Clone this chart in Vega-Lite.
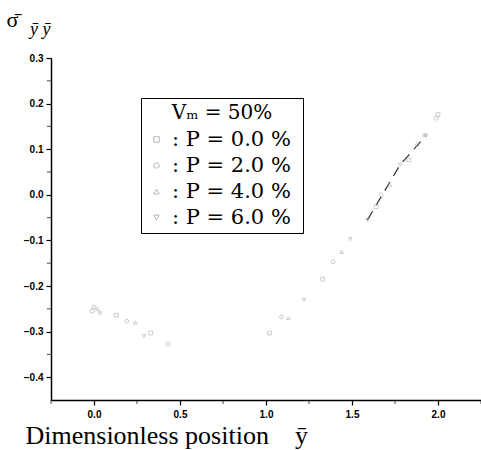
{
  "$schema": "https://vega.github.io/schema/vega-lite/v6.json",
  "width": 430,
  "height": 342,
  "autosize": "none",
  "padding": {"left": 51, "top": 58, "right": 0, "bottom": 50},
  "background": "white",
  "title": {
    "text": "ȳ ȳ",
    "anchor": "start",
    "frame": "group",
    "dx": -21,
    "offset": 0,
    "dy": 31,
    "font": "Liberation Serif",
    "fontStyle": "italic",
    "fontSize": 18,
    "fontWeight": "normal",
    "color": "black"
  },
  "config": {
    "view": {"stroke": null},
    "axis": {
      "domainColor": "black",
      "domainWidth": 1.5,
      "tickColor": "black",
      "tickWidth": 1.2,
      "grid": false,
      "labelFont": "Liberation Sans",
      "labelFontSize": 10,
      "labelFontWeight": "bold",
      "labelColor": "black",
      "titleColor": "black"
    },
    "legend": {
      "orient": "none",
      "legendX": 90,
      "legendY": 40,
      "strokeColor": "black",
      "fillColor": "white",
      "padding": 5,
      "titleFont": "DejaVu Serif",
      "titleFontSize": 20,
      "titleFontWeight": "normal",
      "titleColor": "black",
      "titleAnchor": "middle",
      "titlePadding": 6,
      "labelFont": "DejaVu Serif",
      "labelFontSize": 21,
      "labelColor": "black",
      "rowPadding": 4,
      "symbolSize": 30,
      "symbolStrokeWidth": 1,
      "symbolStrokeColor": "#888888",
      "symbolFillColor": "transparent",
      "labelOffset": 5
    }
  },
  "data": {
    "values": [
      {"P": "0.0", "x": -0.01, "y": -0.255},
      {"P": "0.0", "x": 0.13, "y": -0.264},
      {"P": "0.0", "x": 0.33, "y": -0.303},
      {"P": "0.0", "x": 1.02, "y": -0.303},
      {"P": "0.0", "x": 1.33, "y": -0.185},
      {"P": "0.0", "x": 1.64, "y": -0.026},
      {"P": "0.0", "x": 1.83, "y": 0.077},
      {"P": "0.0", "x": 2.0, "y": 0.176},
      {"P": "2.0", "x": 0.0, "y": -0.246},
      {"P": "2.0", "x": 0.19, "y": -0.277},
      {"P": "2.0", "x": 0.43, "y": -0.327},
      {"P": "2.0", "x": 1.09, "y": -0.268},
      {"P": "2.0", "x": 1.39, "y": -0.147},
      {"P": "2.0", "x": 1.67, "y": 0.0},
      {"P": "2.0", "x": 1.88, "y": 0.11},
      {"P": "2.0", "x": 1.99, "y": 0.168},
      {"P": "4.0", "x": 0.02, "y": -0.25},
      {"P": "4.0", "x": 0.24, "y": -0.28},
      {"P": "4.0", "x": 1.13, "y": -0.27},
      {"P": "4.0", "x": 1.44, "y": -0.125},
      {"P": "4.0", "x": 1.72, "y": 0.022},
      {"P": "4.0", "x": 1.92, "y": 0.132},
      {"P": "6.0", "x": 0.035, "y": -0.26},
      {"P": "6.0", "x": 0.29, "y": -0.31},
      {"P": "6.0", "x": 1.22, "y": -0.231},
      {"P": "6.0", "x": 1.49, "y": -0.097},
      {"P": "6.0", "x": 1.59, "y": -0.055},
      {"P": "6.0", "x": 1.78, "y": 0.066},
      {"P": "6.0", "x": 1.93, "y": 0.13}
    ]
  },
  "layer": [
    {
      "transform": [{"filter": "datum.P == '6.0' && datum.x > 1.5"}],
      "mark": {"type": "line", "color": "#333333", "strokeWidth": 1.2, "strokeDash": [10, 7]},
      "encoding": {
        "x": {"field": "x", "type": "quantitative"},
        "y": {"field": "y", "type": "quantitative"}
      }
    },
    {
      "mark": {"type": "point", "filled": false, "size": 14, "strokeWidth": 1, "color": "#aaaaaa", "opacity": 0.6},
      "encoding": {
        "x": {
          "field": "x",
          "type": "quantitative",
          "scale": {"domain": [-0.25, 2.25], "nice": false, "zero": false},
          "axis": {
            "values": [0, 0.5, 1, 1.5, 2],
            "format": ".1f",
            "tickSize": 5,
            "labelPadding": 4,
            "title": "Dimensionless position\u00a0\u00a0\u00a0 ȳ",
            "titleFont": "Liberation Serif",
            "titleFontSize": 26,
            "titleFontWeight": "normal",
            "titleAnchor": "start",
            "titleAlign": "left",
            "titleBaseline": "alphabetic",
            "titleX": -26,
            "titleY": 43
          }
        },
        "y": {
          "field": "y",
          "type": "quantitative",
          "scale": {"domain": [-0.45, 0.3], "nice": false, "zero": false},
          "axis": {
            "values": [-0.4, -0.3, -0.2, -0.1, 0, 0.1, 0.2, 0.3],
            "format": ".1f",
            "tickSize": 5,
            "labelPadding": 3,
            "title": "σ̄",
            "titleFont": "Liberation Serif",
            "titleFontSize": 22,
            "titleFontWeight": "normal",
            "titleAngle": 0,
            "titleAlign": "left",
            "titleBaseline": "alphabetic",
            "titleX": -45,
            "titleY": -32
          }
        },
        "shape": {
          "field": "P",
          "type": "nominal",
          "scale": {"domain": ["0.0", "2.0", "4.0", "6.0"], "range": ["square", "circle", "triangle-up", "triangle-down"]},
          "legend": {
            "title": "Vₘ = 50%",
            "labelExpr": "':  P = ' + datum.label + ' %'"
          }
        }
      }
    },
    {
      "data": {"values": [{"v": -0.35}, {"v": -0.25}, {"v": -0.15}, {"v": -0.05}, {"v": 0.05}, {"v": 0.15}, {"v": 0.25}]},
      "mark": {"type": "tick", "orient": "horizontal", "color": "black", "size": 4, "thickness": 1, "xOffset": -2},
      "encoding": {
        "y": {"field": "v", "type": "quantitative"},
        "x": {"datum": -0.25, "type": "quantitative"}
      }
    },
    {
      "data": {"values": [{"v": -0.25}, {"v": 0.25}, {"v": 0.75}, {"v": 1.25}, {"v": 1.75}, {"v": 2.25}]},
      "mark": {"type": "tick", "orient": "vertical", "color": "black", "size": 4, "thickness": 1, "yOffset": 2},
      "encoding": {
        "x": {"field": "v", "type": "quantitative"},
        "y": {"datum": -0.45, "type": "quantitative"}
      }
    }
  ]
}
